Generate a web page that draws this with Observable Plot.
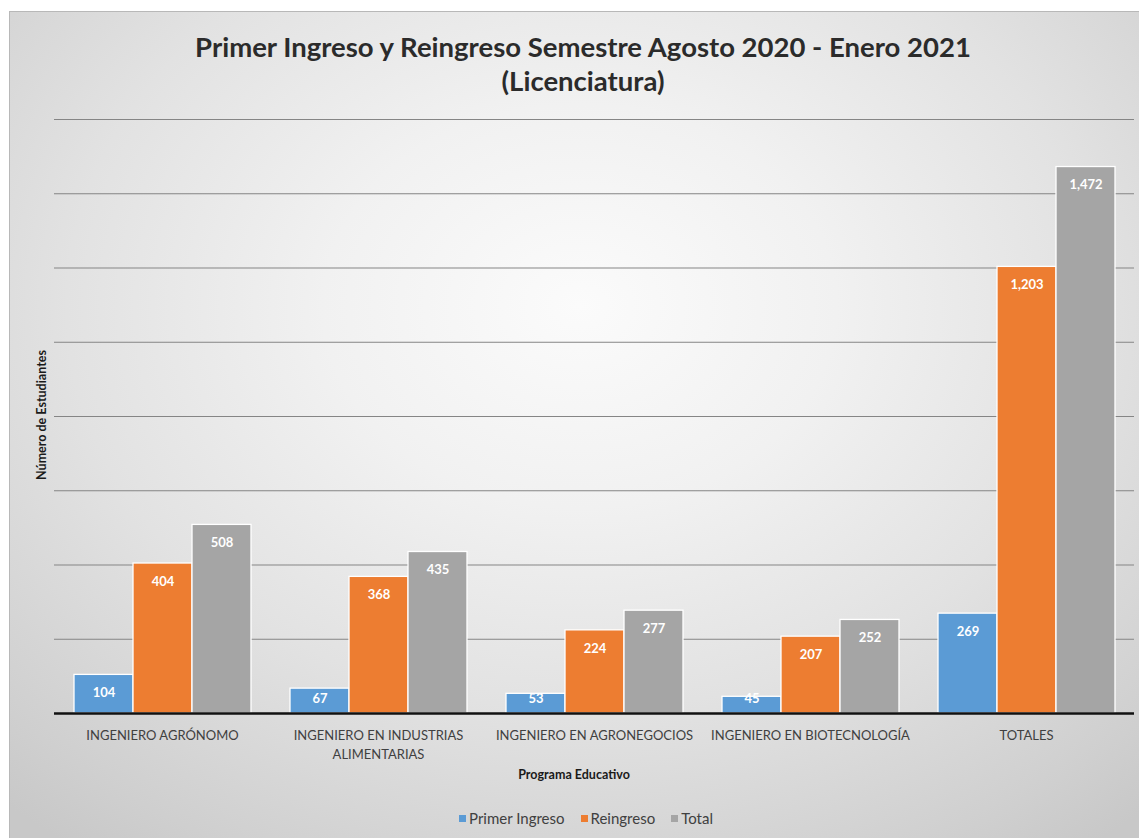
<!DOCTYPE html>
<html>
<head>
<meta charset="utf-8">
<script src="https://cdn.jsdelivr.net/npm/d3@7"></script>
<script src="https://cdn.jsdelivr.net/npm/@observablehq/plot@0.6"></script>
<style>
  html, body { margin: 0; padding: 0; background: #ffffff; }
  #wrap { position: relative; width: 1139px; height: 838px; overflow: hidden; background: #ffffff; }
  #card {
    position: absolute; left: 9px; top: 11px; width: 1140px; height: 840px;
    border-left: 1px solid #b8b8b8; border-top: 1px solid #b8b8b8;
    background: radial-gradient(ellipse 75% 80% at 50% 35%, #fbfbfb 0%, #f1f1f1 30%, #e2e2e2 60%, #cfcfcf 90%, #c8c8c8 100%);
  }
  #chart { position: absolute; left: 0; top: 0; }
  .txt { position: absolute; font-family: Lato, "Open Sans", sans-serif; white-space: nowrap; }
  #title { left: 0; width: 1166px; top: 30px; text-align: center; font-size: 27.5px; font-weight: bold; color: #2b2b2b; line-height: 34px; }
  #xlabel { left: 474px; width: 200px; top: 767px; text-align: center; font-size: 12.5px; font-weight: bold; color: #1a1a1a; }
  #ylabel { left: 41px; top: 415px; font-size: 12.5px; font-weight: bold; color: #1a1a1a; transform: translate(-50%, -50%) rotate(-90deg); }
  #legend { left: 12px; width: 1148px; top: 809px; text-align: center; font-size: 15px; color: #404040; }
  #legend span.item { margin: 0 8px; }
  #legend span.sw { display: inline-block; width: 7px; height: 7px; margin-right: 3px; vertical-align: 2px; }
</style>
</head>
<body>
<div id="wrap">
  <div id="card"></div>
  <div id="chart"></div>
  <div class="txt" id="title">Primer Ingreso y Reingreso Semestre Agosto 2020 - Enero 2021<br>(Licenciatura)</div>
  <div class="txt" id="xlabel">Programa Educativo</div>
  <div class="txt" id="ylabel">Número de Estudiantes</div>
  <div class="txt" id="legend"></div>
</div>
<script>
// ---- Data ----
const programs = [
  "INGENIERO AGRÓNOMO",
  "INGENIERO EN INDUSTRIAS ALIMENTARIAS",
  "INGENIERO EN AGRONEGOCIOS",
  "INGENIERO EN BIOTECNOLOGÍA",
  "TOTALES"
];
const programLabels = [
  "INGENIERO AGRÓNOMO",
  "INGENIERO EN INDUSTRIAS\nALIMENTARIAS",
  "INGENIERO EN AGRONEGOCIOS",
  "INGENIERO EN BIOTECNOLOGÍA",
  "TOTALES"
];
const seriesNames = ["Primer Ingreso", "Reingreso", "Total"];
const primerIngreso = [104, 67, 53, 45, 269];
const reingreso = [404, 368, 224, 207, 1203];
const total = [508, 435, 277, 252, 1472];
const seriesColors = ["#5b9bd5", "#ed7d31", "#a5a5a5"];
const yTicks = [200, 400, 600, 800, 1000, 1200, 1400, 1600];

// ---- Build table ----
const seriesValues = [primerIngreso, reingreso, total];
const rows = [];
programs.forEach((p, i) => {
  seriesNames.forEach((s, j) => {
    rows.push({program: p, series: s, value: seriesValues[j][i]});
  });
});
const labelMap = new Map(programs.map((p, i) => [p, programLabels[i]]));
const fmt = d3.format(",");

const chart = Plot.plot({
  width: 1139,
  height: 838,
  marginLeft: 52,
  marginRight: 3,
  marginTop: 119,
  marginBottom: 125,
  style: {background: "transparent", fontFamily: "Lato, 'Open Sans', sans-serif"},
  fx: {domain: programs, padding: 0, label: null, axis: null},
  x: {domain: seriesNames, axis: null, paddingInner: 0, paddingOuter: 0.31},
  y: {domain: [0, 1600], axis: null},
  color: {domain: seriesNames, range: seriesColors},
  marks: [
    Plot.ruleY(yTicks, {stroke: "#858585", strokeWidth: 1}),
    Plot.barY(rows, {fx: "program", x: "series", y: "value", fill: "series", stroke: "#ffffff", strokeWidth: 1.3}),
    Plot.text(rows, {
      fx: "program", x: "series",
      y: d => Math.max(d.value, 88),
      dy: 18,
      text: d => fmt(d.value),
      fill: "#ffffff",
      fontWeight: "bold",
      fontSize: 13,
      textAnchor: "middle",
      lineAnchor: "middle"
    }),
    Plot.ruleY([0], {stroke: "#111111", strokeWidth: 2.5}),
    Plot.axisFx({
      anchor: "bottom",
      tickSize: 0,
      tickPadding: 13,
      fontSize: 13,
      lineHeight: 1.45,
      fill: "#404040",
      label: null,
      tickFormat: d => labelMap.get(d)
    })
  ]
});
document.getElementById("chart").appendChild(chart);

// ---- Legend ----
const legend = document.getElementById("legend");
seriesNames.forEach((s, i) => {
  const item = document.createElement("span");
  item.className = "item";
  const sw = document.createElement("span");
  sw.className = "sw";
  sw.style.background = seriesColors[i];
  item.appendChild(sw);
  item.appendChild(document.createTextNode(s));
  legend.appendChild(item);
});
</script>
</body>
</html>
